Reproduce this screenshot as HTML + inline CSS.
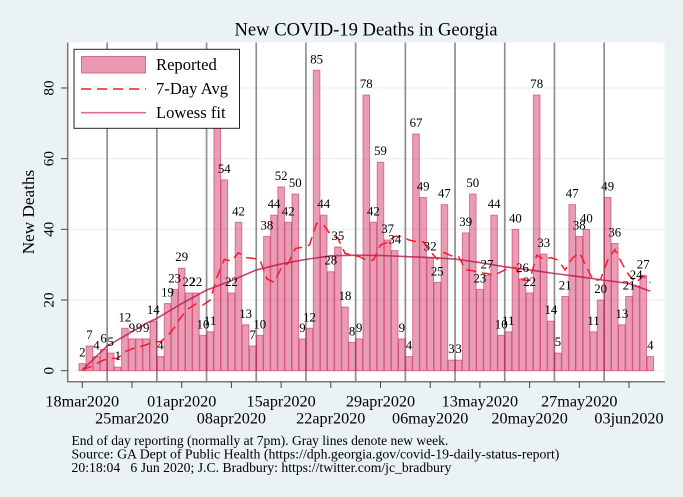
<!DOCTYPE html>
<html lang="en">
<head>
<meta charset="utf-8">
<title>New COVID-19 Deaths in Georgia</title>
<style>
html,body{margin:0;padding:0;background:#eaf2f3;}
svg{display:block;font-family:"Liberation Serif","Times New Roman",serif;}
</style>
</head>
<body>
<svg id="chart" xmlns="http://www.w3.org/2000/svg" width="683" height="497" viewBox="0 0 683 497">
  <rect x="0" y="0" width="683" height="497" fill="#eaf2f3"/>
  <rect x="68" y="42.6" width="596.5" height="339" fill="#ffffff"/>
  <g id="grid"></g>
  <g id="weeks"></g>
  <g id="bars"></g>
  <path id="lowess" fill="none" stroke="#b8174f" stroke-opacity="0.8" stroke-width="1.6"/>
  <path id="avg" fill="none" stroke="#fb1a2a" stroke-width="1.5" stroke-dasharray="10 6"/>
  <g id="labels" font-size="12.8" fill="#000" text-anchor="middle"></g>
  <line x1="67.7" y1="42.6" x2="67.7" y2="382" stroke="#777" stroke-width="1.5"/>
  <line x1="67" y1="381.7" x2="665" y2="381.7" stroke="#777" stroke-width="1.5"/>
  <g id="yaxis"></g>
  <g id="xaxis"></g>
  <text x="366" y="35.5" font-size="18.6" text-anchor="middle" fill="#000">New COVID-19 Deaths in Georgia</text>
  <text transform="translate(34,212) rotate(-90)" font-size="17.2" text-anchor="middle" fill="#000">New Deaths</text>
  <g>
    <rect x="74" y="49.3" width="165.5" height="79" fill="#fff" stroke="#222" stroke-width="1"/>
    <rect x="81.5" y="56.5" width="64" height="16.5" fill="#e89bb0" stroke="#d9688a" stroke-width="1"/>
    <line x1="81" y1="89" x2="146" y2="89" stroke="#fb1a2a" stroke-width="1.5" stroke-dasharray="10 6"/>
    <line x1="81" y1="112.7" x2="146" y2="112.7" stroke="#d9708e" stroke-width="1.6"/>
    <text x="156" y="70" font-size="16.6" fill="#000">Reported</text>
    <text x="156" y="94" font-size="16.6" fill="#000">7-Day Avg</text>
    <text x="156" y="118" font-size="16.6" fill="#000">Lowess fit</text>
  </g>
  <g fill="#000">
    <text x="71.5" y="445" font-size="13.5">End of day reporting (normally at 7pm). Gray lines denote new week.</text>
    <text x="71.5" y="458.5" font-size="13.8">Source: GA Dept of Public Health (https://dph.georgia.gov/covid-19-daily-status-report)</text>
    <text x="71.5" y="472" font-size="13.7" xml:space="preserve">20:18:04   6 Jun 2020; J.C. Bradbury: https://twitter.com/jc_bradbury</text>
  </g>
</svg>
<script>
var reported = [2,7,4,6,5,1,12,9,9,9,14,4,19,23,29,22,22,10,11,70,54,22,42,13,7,10,38,44,52,42,50,9,12,85,44,28,35,18,8,9,78,42,59,37,34,9,4,67,49,32,25,47,3,3,39,50,23,27,44,10,11,40,26,22,78,33,14,5,21,47,38,40,11,20,49,36,13,21,24,27,4];
var sevenDayAvg = [0.2,1,2,3,3.5,3.5,5.4,6.2,6.7,7.3,8.2,8.2,9.8,12.3,15.5,17.6,18.9,18.6,20,26.6,31.5,31,33.4,32,31.8,31.5,26,25,29,30.4,34.6,34.9,35.6,41.7,41.2,38.4,37.5,33.2,32.7,32.3,31.3,31.3,35.6,36.3,38,38,37,36.5,36.5,33.7,31.6,33.4,32.5,32.3,28.5,28.3,27.7,27.5,27,28,29,29.2,25.7,25.5,32.7,31.5,32,31.3,28.5,31.8,33.5,29.4,25.5,25.8,31.3,34.3,30.4,27,24.9,26.8,24.9];
var lowessDays = [0,3.5,7,9,10.5,14,17.5,21,24.5,28,31.5,35,38.5,42,45.5,49,52.5,56,59.5,63,66.5,70,73.5,77,80];
var lowessValues = [0.2,7,11,13.4,14.8,19,22.8,25.5,28.5,30.2,31.5,32.5,32.7,32.6,32.3,32,31.6,30.6,29.4,28.5,27.5,26.6,25.6,24.7,22.5];
var xTickDays = [0,7,14,21,28,35,42,49,56,63,70,77];
var xTickLabels = ["18mar2020","25mar2020","01apr2020","08apr2020","15apr2020","22apr2020","29apr2020","06may2020","13may2020","20may2020","27may2020","03jun2020"];
var yTicks = [0,20,40,60,80];
var weekLineDays = [3.5,10.5,17.5,24.5,31.5,38.5,45.5,52.5,59.5,66.5,73.5];

var NS = "http://www.w3.org/2000/svg";
function xScale(d){ return 82.3 + d * 7.1; }
function yScale(v){ return 370.7 - v * 3.534; }
function mk(tag, parent, attrs, txt){
  var el = document.createElementNS(NS, tag);
  for (var k in attrs) el.setAttribute(k, attrs[k]);
  if (txt !== undefined) el.textContent = txt;
  document.getElementById(parent).appendChild(el);
  return el;
}
function linePath(xs, ys){
  var out = "";
  for (var i = 0; i < xs.length; i++) out += (i ? "L" : "M") + xScale(xs[i]).toFixed(2) + " " + yScale(ys[i]).toFixed(2);
  return out;
}

yTicks.forEach(function(t){
  var y = yScale(t);
  var g = mk("line", "grid", {x1:68, x2:664.5, y1:y, y2:y, stroke:"#eaf2f3", "stroke-width":1.2});
  
  
  var tick = mk("line", "yaxis", {x1:61, x2:67.5, y1:y, y2:y, stroke:"#444", "stroke-width":1});
  
  
  var lab = mk("text", "yaxis", {transform:"translate(53.5," + y + ") rotate(-90)", "font-size":15.2, "text-anchor":"middle", fill:"#000"}, String(t));
  
  
});

weekLineDays.forEach(function(d){
  var x = xScale(d);
  var l = mk("line", "weeks", {x1:x, x2:x, y1:42.6, y2:381.5, stroke:"#8f8f8f", "stroke-width":1.7});
  
  
});

reported.forEach(function(v, i){
  var x = xScale(i), y = yScale(v);
  var b = mk("rect", "bars", {x:x - 3.3, y:y, width:6.6, height:yScale(0) - y, fill:"#cf2a5c", "fill-opacity":0.46, stroke:"#c8144e", "stroke-opacity":0.5, "stroke-width":1});
  
  
  var t = mk("text", "labels", {x:x, y:y - 7}, String(v));
  
  
});

document.getElementById("lowess").setAttribute("d", linePath(lowessDays, lowessValues));
document.getElementById("avg").setAttribute("d", linePath(reported.map(function(_, i){ return i; }), sevenDayAvg));

xTickDays.forEach(function(d, i){
  var x = xScale(d);
  var tick = mk("line", "xaxis", {x1:x, x2:x, y1:382, y2:388, stroke:"#444", "stroke-width":1});
  
  
  var lab = mk("text", "xaxis", {x:x, y:(i % 2 ? 423.5 : 406.5), "font-size":16.2, "text-anchor":"middle", fill:"#000"}, xTickLabels[i]);
  
  
});
</script>
</body>
</html>
